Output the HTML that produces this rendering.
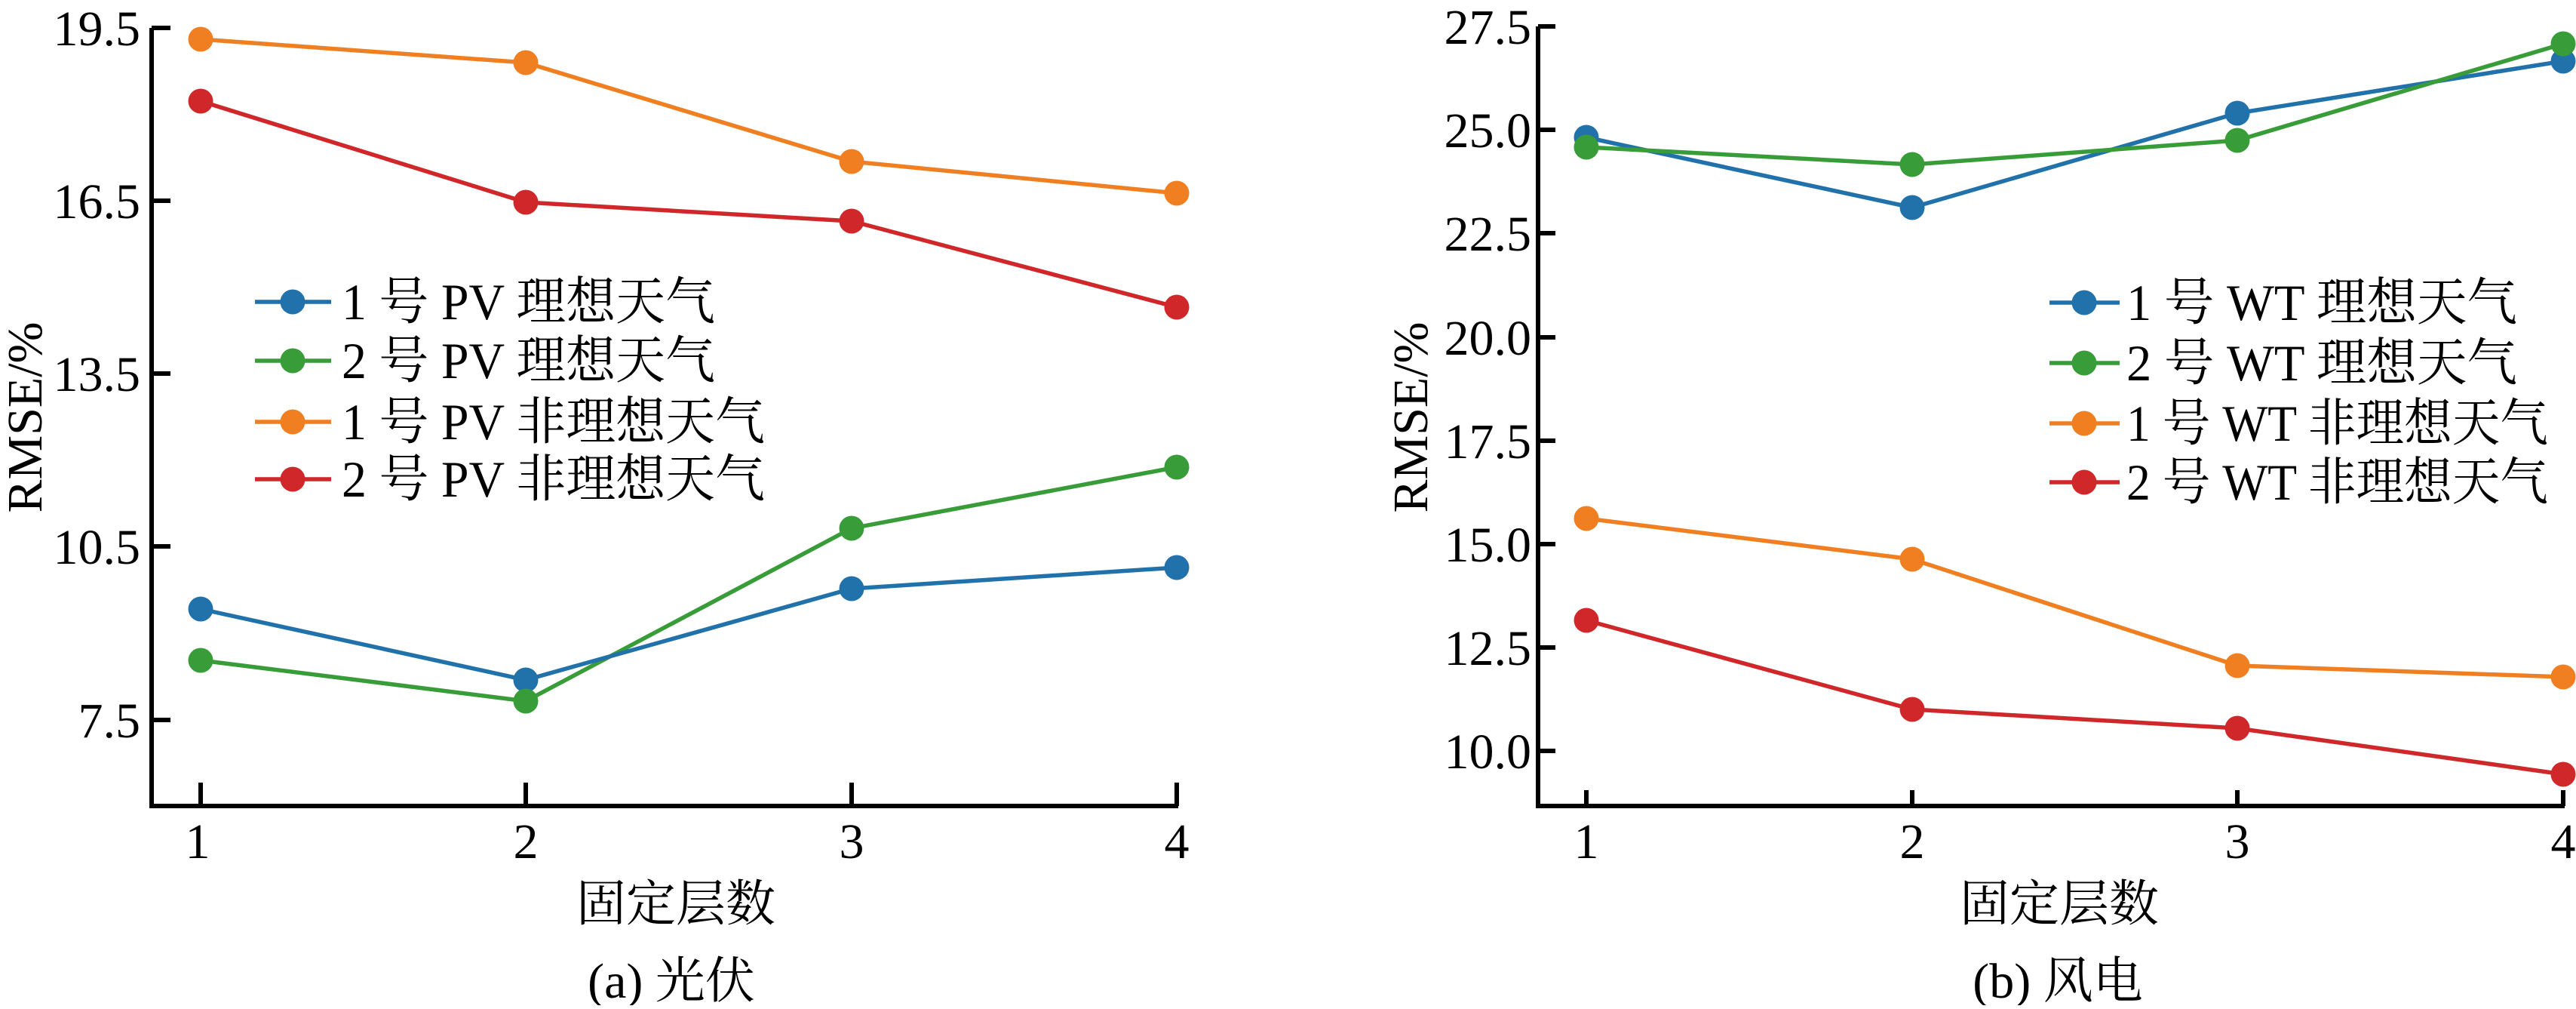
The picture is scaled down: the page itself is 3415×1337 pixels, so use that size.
<!DOCTYPE html>
<html><head><meta charset="utf-8"><style>
html,body{margin:0;padding:0;background:#fff;}
svg text{font-family:"Liberation Serif","Noto Serif CJK SC","Noto Sans CJK SC",serif;fill:#000;}
</style></head><body>
<svg width="3415" height="1332" viewBox="0 0 3415 1332" xmlns="http://www.w3.org/2000/svg">
<g stroke="#000" stroke-width="6" fill="none">
<polyline points="201,37 201,1068 1562,1068"/>
<line x1="201" y1="37" x2="226" y2="37"/><line x1="201" y1="266" x2="226" y2="266"/>
<line x1="201" y1="495" x2="226" y2="495"/><line x1="201" y1="724" x2="226" y2="724"/>
<line x1="201" y1="954" x2="226" y2="954"/>
<line x1="266" y1="1068" x2="266" y2="1037"/><line x1="697" y1="1068" x2="697" y2="1037"/>
<line x1="1129" y1="1068" x2="1129" y2="1037"/><line x1="1560" y1="1068" x2="1560" y2="1037"/>
<polyline points="2039,35 2039,1068 3400,1068"/>
<line x1="2039" y1="35" x2="2062" y2="35"/><line x1="2039" y1="172" x2="2062" y2="172"/>
<line x1="2039" y1="309" x2="2062" y2="309"/><line x1="2039" y1="447" x2="2062" y2="447"/>
<line x1="2039" y1="584" x2="2062" y2="584"/><line x1="2039" y1="721" x2="2062" y2="721"/>
<line x1="2039" y1="858" x2="2062" y2="858"/><line x1="2039" y1="995" x2="2062" y2="995"/>
<line x1="2103" y1="1068" x2="2103" y2="1047"/><line x1="2535" y1="1068" x2="2535" y2="1047"/>
<line x1="2966" y1="1068" x2="2966" y2="1047"/><line x1="3398" y1="1068" x2="3398" y2="1047"/>
</g>
<g font-size="66" text-anchor="end">
<text x="186" y="60">19.5</text><text x="186" y="289">16.5</text><text x="186" y="518">13.5</text><text x="186" y="747">10.5</text><text x="186" y="977">7.5</text>
<text x="2030" y="58">27.5</text><text x="2030" y="195">25.0</text><text x="2030" y="332">22.5</text><text x="2030" y="470">20.0</text><text x="2030" y="607">17.5</text><text x="2030" y="744">15.0</text><text x="2030" y="881">12.5</text><text x="2030" y="1018">10.0</text>
</g>
<g font-size="66" text-anchor="middle">
<text x="262" y="1137">1</text><text x="697" y="1137">2</text><text x="1129" y="1137">3</text><text x="1560" y="1137">4</text>
<text x="2103" y="1137">1</text><text x="2535" y="1137">2</text><text x="2966" y="1137">3</text><text x="3398" y="1137">4</text>
<text x="896" y="1220">固定层数</text><text x="2730" y="1220">固定层数</text>
<text x="890" y="1322">(a) 光伏</text><text x="2728" y="1322">(b) 风电</text>
<text transform="translate(55,553) rotate(-90)">RMSE/%</text>
<text transform="translate(1892,553) rotate(-90)">RMSE/%</text>
</g>
<g stroke-width="5.5" fill="none">
<polyline stroke="#f07f22" points="266,52 697,83 1129,214 1560,256"/>
<polyline stroke="#d0282a" points="266,134 697,268 1129,293 1560,407"/>
<polyline stroke="#389c38" points="266,875 697,929 1129,700 1560,619"/>
<polyline stroke="#2171aa" points="266,807 697,901 1129,780 1560,752"/>
<polyline stroke="#2171aa" points="2103,182 2535,275 2966,150 3398,81"/>
<polyline stroke="#389c38" points="2103,195 2535,218 2966,186 3398,58"/>
<polyline stroke="#f07f22" points="2103,687 2535,741 2966,882 3398,897"/>
<polyline stroke="#d0282a" points="2103,822 2535,940 2966,965 3398,1026"/>
<line stroke="#2171aa" x1="338" y1="400" x2="439" y2="400"/>
<line stroke="#389c38" x1="338" y1="478" x2="439" y2="478"/>
<line stroke="#f07f22" x1="338" y1="559" x2="439" y2="559"/>
<line stroke="#d0282a" x1="338" y1="635" x2="439" y2="635"/>
<line stroke="#2171aa" x1="2717" y1="401" x2="2810" y2="401"/>
<line stroke="#389c38" x1="2717" y1="481" x2="2810" y2="481"/>
<line stroke="#f07f22" x1="2717" y1="561" x2="2810" y2="561"/>
<line stroke="#d0282a" x1="2717" y1="639" x2="2810" y2="639"/>
</g>
<g fill="#f07f22"><circle cx="266" cy="52" r="16.5"/><circle cx="697" cy="83" r="16.5"/><circle cx="1129" cy="214" r="16.5"/><circle cx="1560" cy="256" r="16.5"/>
<circle cx="2103" cy="687" r="16.5"/><circle cx="2535" cy="741" r="16.5"/><circle cx="2966" cy="882" r="16.5"/><circle cx="3398" cy="897" r="16.5"/><circle cx="388" cy="559" r="16.5"/><circle cx="2763" cy="561" r="16.5"/></g>
<g fill="#d0282a"><circle cx="266" cy="134" r="16.5"/><circle cx="697" cy="268" r="16.5"/><circle cx="1129" cy="293" r="16.5"/><circle cx="1560" cy="407" r="16.5"/>
<circle cx="2103" cy="822" r="16.5"/><circle cx="2535" cy="940" r="16.5"/><circle cx="2966" cy="965" r="16.5"/><circle cx="3398" cy="1026" r="16.5"/><circle cx="388" cy="635" r="16.5"/><circle cx="2763" cy="639" r="16.5"/></g>
<g fill="#2171aa"><circle cx="266" cy="807" r="16.5"/><circle cx="697" cy="901" r="16.5"/><circle cx="1129" cy="780" r="16.5"/><circle cx="1560" cy="752" r="16.5"/>
<circle cx="2103" cy="182" r="16.5"/><circle cx="2535" cy="275" r="16.5"/><circle cx="2966" cy="150" r="16.5"/><circle cx="3398" cy="81" r="16.5"/><circle cx="388" cy="400" r="16.5"/><circle cx="2763" cy="401" r="16.5"/></g>
<g fill="#389c38"><circle cx="266" cy="875" r="16.5"/><circle cx="697" cy="929" r="16.5"/><circle cx="1129" cy="700" r="16.5"/><circle cx="1560" cy="619" r="16.5"/>
<circle cx="2103" cy="195" r="16.5"/><circle cx="2535" cy="218" r="16.5"/><circle cx="2966" cy="186" r="16.5"/><circle cx="3398" cy="58" r="16.5"/><circle cx="388" cy="478" r="16.5"/><circle cx="2763" cy="481" r="16.5"/></g>
<g font-size="68">
<text x="453" y="423" textLength="495" lengthAdjust="spacingAndGlyphs">1 号 PV 理想天气</text>
<text x="453" y="501" textLength="495" lengthAdjust="spacingAndGlyphs">2 号 PV 理想天气</text>
<text x="453" y="582" textLength="561" lengthAdjust="spacingAndGlyphs">1 号 PV 非理想天气</text>
<text x="453" y="658" textLength="561" lengthAdjust="spacingAndGlyphs">2 号 PV 非理想天气</text>
<text x="2819" y="424" textLength="518" lengthAdjust="spacingAndGlyphs">1 号 WT 理想天气</text>
<text x="2819" y="504" textLength="518" lengthAdjust="spacingAndGlyphs">2 号 WT 理想天气</text>
<text x="2819" y="584" textLength="559" lengthAdjust="spacingAndGlyphs">1 号 WT 非理想天气</text>
<text x="2819" y="662" textLength="559" lengthAdjust="spacingAndGlyphs">2 号 WT 非理想天气</text>
</g>
</svg>
</body></html>
